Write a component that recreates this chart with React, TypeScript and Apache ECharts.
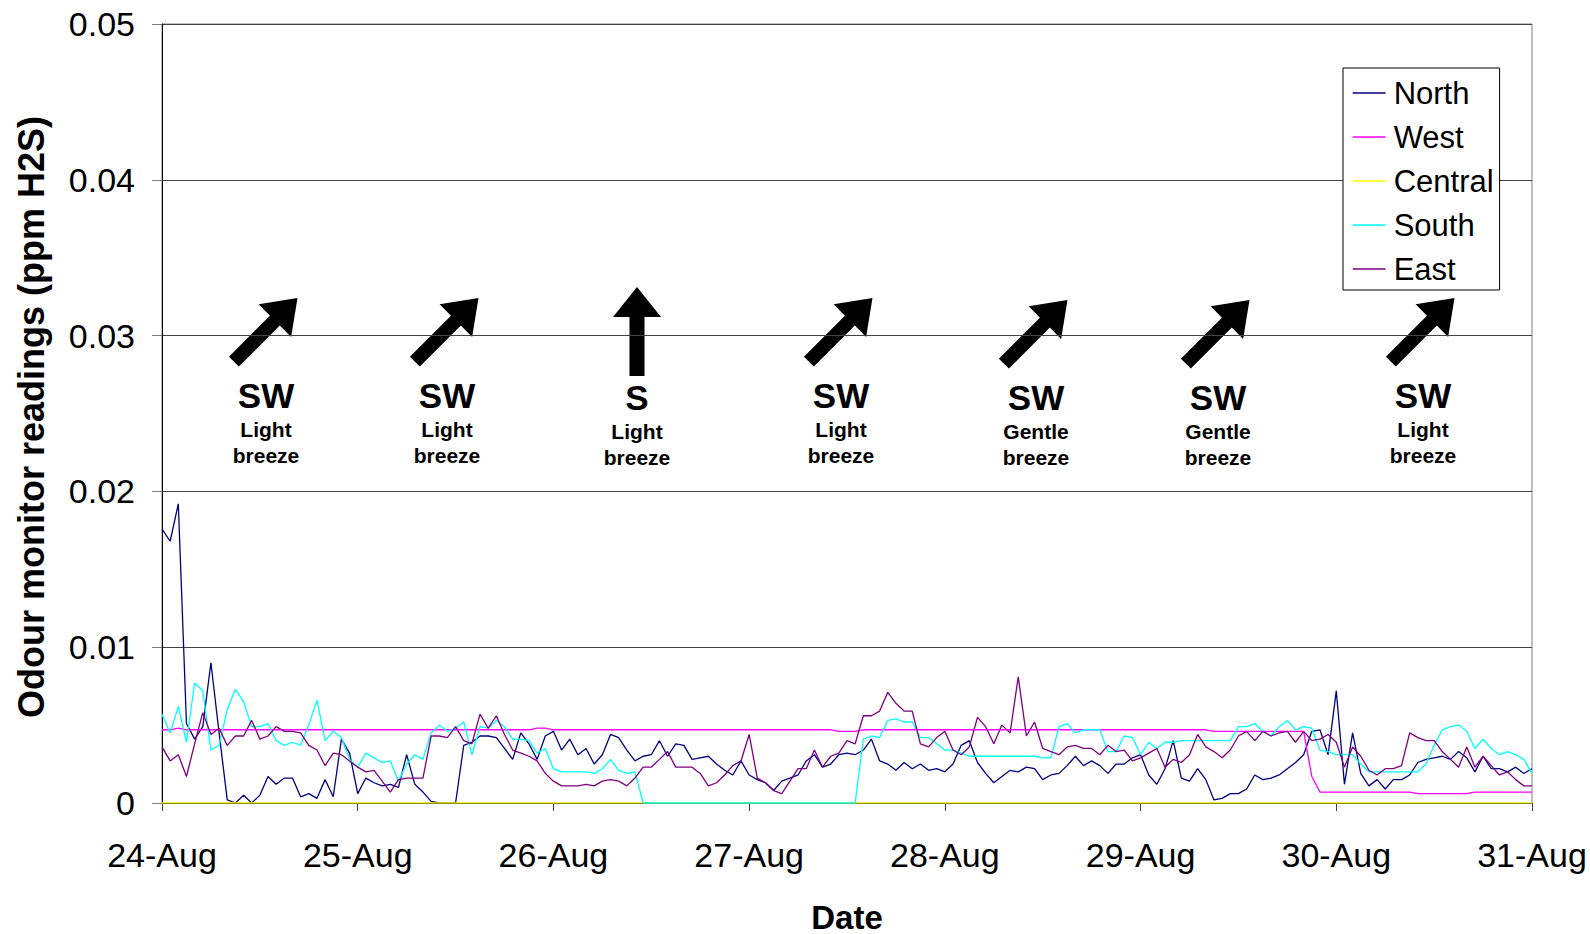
import React, { useEffect, useRef } from 'react';
import * as echarts from 'echarts';

// ---------- DATA (hourly readings, ppm H2S x 1000) ----------
const dayLabels = ['24-Aug', '25-Aug', '26-Aug', '27-Aug', '28-Aug', '29-Aug', '30-Aug', '31-Aug'];
const hoursPerDay = 24;
const yTickMax = 0.05;
const yTickStep = 0.01;

const seriesNames = ['North', 'West', 'Central', 'South', 'East'];
const seriesColors = ['#000080', '#FF00FF', '#FFFF00', '#00FFFF', '#800080'];

const northMilli = [
  17.6, 16.8, 19.2, 5.1, 4.1, 4.9, 9.0, 4.5, 0.2, 0.0, 0.5, 0.0, 0.5, 1.7, 1.2, 1.6, 1.6, 0.4, 0.6, 0.3, 1.5, 0.4, 4.1, 3.2,
  0.6, 1.6, 1.3, 1.1, 1.2, 1.0, 3.1, 1.2, 0.7, 0.1, 0.0, 0.0, 0.0, 3.7, 3.9, 4.3, 4.3, 4.2, 3.5, 2.8, 4.5, 3.8, 2.8, 4.3,
  4.6, 3.4, 4.1, 3.1, 3.5, 2.5, 3.1, 4.4, 4.2, 3.4, 2.7, 3.0, 3.1, 4.0, 3.0, 3.8, 3.7, 2.8, 2.9, 3.0, 2.5, 2.1, 1.8, 2.7,
  1.8, 1.5, 1.3, 0.8, 1.4, 1.6, 1.8, 2.7, 3.1, 2.3, 2.5, 3.1, 3.2, 3.1, 3.4, 4.1, 2.7, 2.5, 2.1, 2.6, 2.2, 2.5, 2.1, 2.2,
  2.0, 2.5, 3.7, 4.0, 2.6, 1.9, 1.3, 1.7, 2.1, 2.0, 2.3, 2.2, 1.5, 1.8, 1.9, 2.4, 3.0, 2.4, 2.7, 2.4, 1.9, 2.5, 2.5, 2.9,
  3.1, 1.8, 1.2, 2.2, 4.0, 1.6, 1.4, 2.2, 1.5, 0.2, 0.3, 0.6, 0.6, 0.9, 1.8, 1.5, 1.6, 1.8, 2.2, 2.6, 3.1, 4.6, 4.7, 3.1,
  7.2, 1.2, 4.5, 1.9, 1.1, 1.5, 0.9, 1.5, 1.5, 1.8, 2.6, 2.8, 2.9, 3.0, 2.8, 3.3, 2.9, 2.0, 3.0, 2.2, 2.2, 2.0, 2.3, 1.9,
  2.2,
];

const westMilli = [
  4.7, 4.7, 4.8, 4.7, 4.7, 4.7, 4.7, 4.7, 4.7, 4.7, 4.7, 4.7, 4.7, 4.7, 4.7, 4.7, 4.7, 4.7, 4.7, 4.7, 4.7, 4.7, 4.7, 4.7,
  4.7, 4.7, 4.7, 4.7, 4.7, 4.7, 4.7, 4.7, 4.7, 4.7, 4.7, 4.7, 4.7, 4.7, 4.7, 4.7, 4.7, 4.7, 4.7, 4.7, 4.7, 4.7, 4.8, 4.8,
  4.7, 4.7, 4.7, 4.7, 4.7, 4.7, 4.7, 4.7, 4.7, 4.7, 4.7, 4.7, 4.7, 4.7, 4.7, 4.7, 4.7, 4.7, 4.7, 4.7, 4.7, 4.7, 4.7, 4.7,
  4.7, 4.7, 4.7, 4.7, 4.7, 4.7, 4.7, 4.7, 4.7, 4.7, 4.7, 4.6, 4.6, 4.6, 4.7, 4.7, 4.7, 4.7, 4.7, 4.7, 4.7, 4.7, 4.7, 4.7,
  4.7, 4.7, 4.7, 4.7, 4.7, 4.7, 4.7, 4.7, 4.7, 4.7, 4.7, 4.7, 4.7, 4.7, 4.7, 4.7, 4.7, 4.7, 4.7, 4.7, 4.7, 4.7, 4.7, 4.7,
  4.7, 4.7, 4.7, 4.7, 4.7, 4.7, 4.7, 4.7, 4.7, 4.6, 4.6, 4.6, 4.6, 4.6, 4.6, 4.6, 4.6, 4.6, 4.6, 4.6, 4.6, 1.7, 0.7, 0.7,
  0.7, 0.7, 0.7, 0.7, 0.7, 0.7, 0.7, 0.7, 0.7, 0.7, 0.6, 0.6, 0.6, 0.6, 0.6, 0.6, 0.6, 0.7, 0.7, 0.7, 0.7, 0.7, 0.7, 0.7,
  0.7,
];

const centralMilli = [
  0, 0, 0, 0, 0, 0, 0, 0, 0, 0, 0, 0, 0, 0, 0, 0, 0, 0, 0, 0, 0, 0, 0, 0,
  0, 0, 0, 0, 0, 0, 0, 0, 0, 0, 0, 0, 0, 0, 0, 0, 0, 0, 0, 0, 0, 0, 0, 0,
  0, 0, 0, 0, 0, 0, 0, 0, 0, 0, 0, 0, 0, 0, 0, 0, 0, 0, 0, 0, 0, 0, 0, 0,
  0, 0, 0, 0, 0, 0, 0, 0, 0, 0, 0, 0, 0, 0, 0, 0, 0, 0, 0, 0, 0, 0, 0, 0,
  0, 0, 0, 0, 0, 0, 0, 0, 0, 0, 0, 0, 0, 0, 0, 0, 0, 0, 0, 0, 0, 0, 0, 0,
  0, 0, 0, 0, 0, 0, 0, 0, 0, 0, 0, 0, 0, 0, 0, 0, 0, 0, 0, 0, 0, 0, 0, 0,
  0, 0, 0, 0, 0, 0, 0, 0, 0, 0, 0, 0, 0, 0, 0, 0, 0, 0, 0, 0, 0, 0, 0, 0,
  0,
];

const southMilli = [
  5.7, 4.5, 6.2, 3.9, 7.7, 7.2, 3.4, 3.7, 6.0, 7.3, 6.5, 4.9, 4.9, 5.1, 4.0, 3.7, 3.9, 3.7, 5.0, 6.6, 4.0, 4.6, 4.2, 2.8,
  2.3, 3.2, 2.9, 2.6, 2.7, 1.4, 2.5, 3.1, 2.8, 4.5, 5.0, 4.6, 4.8, 5.2, 3.1, 4.9, 4.8, 5.3, 4.9, 4.1, 4.1, 4.0, 3.2, 3.5,
  2.2, 2.0, 2.0, 2.0, 2.0, 1.9, 2.2, 2.8, 2.1, 1.9, 2.0, 0.0, 0.0, 0.0, 0.0, 0.0, 0.0, 0.0, 0.0, 0.0, 0.0, 0.0, 0.0, 0.0,
  0.0, 0.0, 0.0, 0.0, 0.0, 0.0, 0.0, 0.0, 0.0, 0.0, 0.0, 0.0, 0.0, 0.0, 4.1, 4.3, 4.2, 5.3, 5.4, 5.2, 5.2, 4.2, 4.2, 3.8,
  3.4, 3.4, 3.2, 3.0, 3.0, 3.0, 3.0, 3.0, 3.0, 3.0, 3.0, 3.0, 2.9, 2.9, 4.9, 5.1, 4.5, 4.7, 4.7, 4.7, 3.3, 3.3, 4.3, 4.2,
  3.1, 3.9, 3.5, 3.9, 3.9, 4.0, 4.0, 4.0, 4.0, 4.0, 4.0, 4.0, 4.9, 4.9, 5.1, 4.6, 4.3, 4.9, 5.3, 4.7, 4.9, 4.8, 3.4, 3.3,
  3.1, 3.1, 3.1, 2.5, 2.0, 2.0, 2.0, 2.0, 2.0, 2.0, 2.0, 2.5, 3.7, 4.7, 4.9, 5.0, 4.6, 3.5, 4.1, 3.5, 3.1, 3.3, 3.1, 2.8,
  1.9,
];

const eastMilli = [
  3.6, 2.7, 3.1, 1.7, 3.8, 5.8, 4.4, 4.8, 3.7, 4.3, 4.3, 5.3, 4.1, 4.3, 4.9, 4.6, 4.6, 4.5, 3.7, 3.4, 2.4, 3.2, 3.1, 2.7,
  2.3, 2.0, 2.1, 1.4, 0.7, 1.5, 1.6, 1.6, 1.6, 4.3, 4.3, 4.2, 4.9, 4.0, 3.8, 5.7, 4.8, 5.6, 4.4, 3.4, 3.2, 3.0, 2.7, 1.9,
  1.4, 1.1, 1.1, 1.1, 1.2, 1.1, 1.4, 1.5, 1.4, 1.1, 1.6, 2.3, 2.3, 2.8, 3.3, 2.3, 2.3, 2.3, 1.9, 1.1, 1.3, 1.8, 2.4, 2.7,
  4.4, 1.6, 1.3, 0.8, 0.6, 1.4, 2.2, 2.2, 3.4, 2.3, 3.0, 3.2, 4.0, 3.8, 5.6, 5.6, 5.9, 7.1, 6.4, 5.9, 5.9, 3.8, 3.6, 4.2,
  4.6, 3.4, 3.1, 3.6, 5.5, 4.9, 3.8, 5.0, 4.5, 8.1, 4.3, 5.2, 3.5, 3.3, 3.1, 3.6, 3.7, 3.5, 3.5, 3.1, 3.7, 3.3, 3.4, 2.7,
  2.9, 3.2, 3.5, 2.3, 2.8, 2.6, 3.1, 4.4, 3.6, 3.3, 2.9, 3.4, 4.3, 4.6, 4.0, 4.6, 4.3, 4.5, 4.6, 3.9, 4.6, 4.0, 4.1, 4.4,
  3.9, 2.3, 3.6, 3.0, 2.1, 1.8, 2.2, 2.2, 2.4, 4.5, 4.2, 4.0, 4.0, 3.3, 2.8, 2.3, 3.6, 2.3, 3.0, 2.4, 1.8, 2.0, 1.5, 1.1,
  1.1,
];

const seriesValues = [northMilli, westMilli, centralMilli, southMilli, eastMilli];

// Wind annotations
const windDirections = ['SW', 'SW', 'S', 'SW', 'SW', 'SW', 'SW'];
const windStrengths = ['Light', 'Light', 'Light', 'Light', 'Gentle', 'Gentle', 'Light'];
const windWord = 'breeze';

// ---------- LAYOUT ----------
const W = 1590;
const H = 934;
const FONT = '"Liberation Sans", Arial, Helvetica, sans-serif';
const annotX = [266, 447, 637, 841, 1036, 1218, 1423];

function buildGraphics(): any[] {
  const els: any[] = [];
  windDirections.forEach((dir, k) => {
    const cx = annotX[k];
    const gentle = windStrengths[k] === 'Gentle';
    const isS = dir === 'S';
    if (isS) {
      els.push({
        type: 'polygon',
        x: cx,
        y: 287,
        shape: { points: [[0, 0], [24, 30], [7.5, 30], [7.5, 89], [-7.5, 89], [-7.5, 30], [-24, 30]] },
        style: { fill: '#000' },
      });
    } else {
      els.push({
        type: 'polygon',
        x: cx + 31.5,
        y: gentle ? 300 : 298,
        rotation: -Math.PI / 4,
        shape: { points: [[0, 0], [23, 32], [7, 32], [7, 90], [-7, 90], [-7, 32], [-23, 32]] },
        style: { fill: '#000' },
      });
    }
    const baseY = isS || gentle ? 397 : 395;
    els.push({
      type: 'text', x: cx, y: baseY,
      style: { text: dir, font: `bold 35px ${FONT}`, fill: '#000', textAlign: 'center', textVerticalAlign: 'middle' },
    });
    els.push({
      type: 'text', x: cx, y: baseY + 34,
      style: { text: windStrengths[k], font: `bold 21px ${FONT}`, fill: '#000', textAlign: 'center', textVerticalAlign: 'middle' },
    });
    els.push({
      type: 'text', x: cx, y: baseY + 60,
      style: { text: windWord, font: `bold 21px ${FONT}`, fill: '#000', textAlign: 'center', textVerticalAlign: 'middle' },
    });
  });
  els.push({
    type: 'text', x: 847, y: 917,
    style: { text: 'Date', font: `bold 33px ${FONT}`, fill: '#000', textAlign: 'center', textVerticalAlign: 'middle' },
  });
  els.push({
    type: 'text', x: 31, y: 417, rotation: Math.PI / 2,
    style: { text: 'Odour monitor readings (ppm H2S)', font: `bold 36px ${FONT}`, fill: '#000', textAlign: 'center', textVerticalAlign: 'middle' },
  });
  return els;
}

export default function App() {
  const ref = useRef<HTMLDivElement>(null);
  useEffect(() => {
    if (!ref.current) return;
    const chart = echarts.init(ref.current, undefined, { renderer: 'svg' });
    const option: any = {
      animation: false,
      backgroundColor: '#fff',
      grid: {
        left: 162, right: 58, top: 24, bottom: 131,
        show: true, borderColor: '#808080', borderWidth: 1, backgroundColor: 'transparent',
      },
      xAxis: {
        type: 'value',
        min: 0,
        max: (dayLabels.length - 1) * hoursPerDay,
        interval: hoursPerDay,
        axisLine: { show: true, onZero: false, lineStyle: { color: '#000', width: 1 } },
        axisTick: { show: true, length: 8, lineStyle: { color: '#444' } },
        axisLabel: {
          fontSize: 34, fontFamily: FONT, color: '#000', margin: 35,
          formatter: (v: number) => dayLabels[Math.round(v / hoursPerDay)] ?? '',
        },
        splitLine: { show: false },
      },
      yAxis: {
        type: 'value',
        min: 0,
        max: yTickMax,
        interval: yTickStep,
        axisLine: { show: true, lineStyle: { color: '#000', width: 1 } },
        axisTick: { show: true, length: 10, lineStyle: { color: '#808080' } },
        axisLabel: {
          fontSize: 34, fontFamily: FONT, color: '#000', margin: 27,
          formatter: (v: number) => (v === 0 ? '0' : v.toFixed(2)),
        },
        splitLine: { show: true, lineStyle: { color: '#444', width: 1 } },
      },
      legend: {
        orient: 'vertical',
        left: 1343,
        top: 68,
        data: seriesNames,
        itemWidth: 33,
        itemHeight: 14,
        itemGap: 10,
        padding: [8, 6, 4, 9],
        borderColor: '#000',
        borderWidth: 1,
        backgroundColor: '#fff',
        itemStyle: { opacity: 0 },
        lineStyle: { width: 1.3 },
        textStyle: { fontSize: 31, fontFamily: FONT, color: '#000', lineHeight: 34, padding: [0, 0, 0, 3] },
      },
      series: seriesNames.map((name, s) => ({
        name,
        type: 'line',
        symbol: 'none',
        data: seriesValues[s].map((v, i) => [i, v / 1000]),
        lineStyle: { color: seriesColors[s], width: 1.3 },
        itemStyle: { color: seriesColors[s] },
        emphasis: { disabled: true },
      })),
      graphic: buildGraphics(),
    };
    chart.setOption(option);
    return () => chart.dispose();
  }, []);
  return (
    <div
      ref={ref}
      style={{ position: 'absolute', left: 0, top: 0, width: W, height: H, background: '#fff' }}
    />
  );
}
